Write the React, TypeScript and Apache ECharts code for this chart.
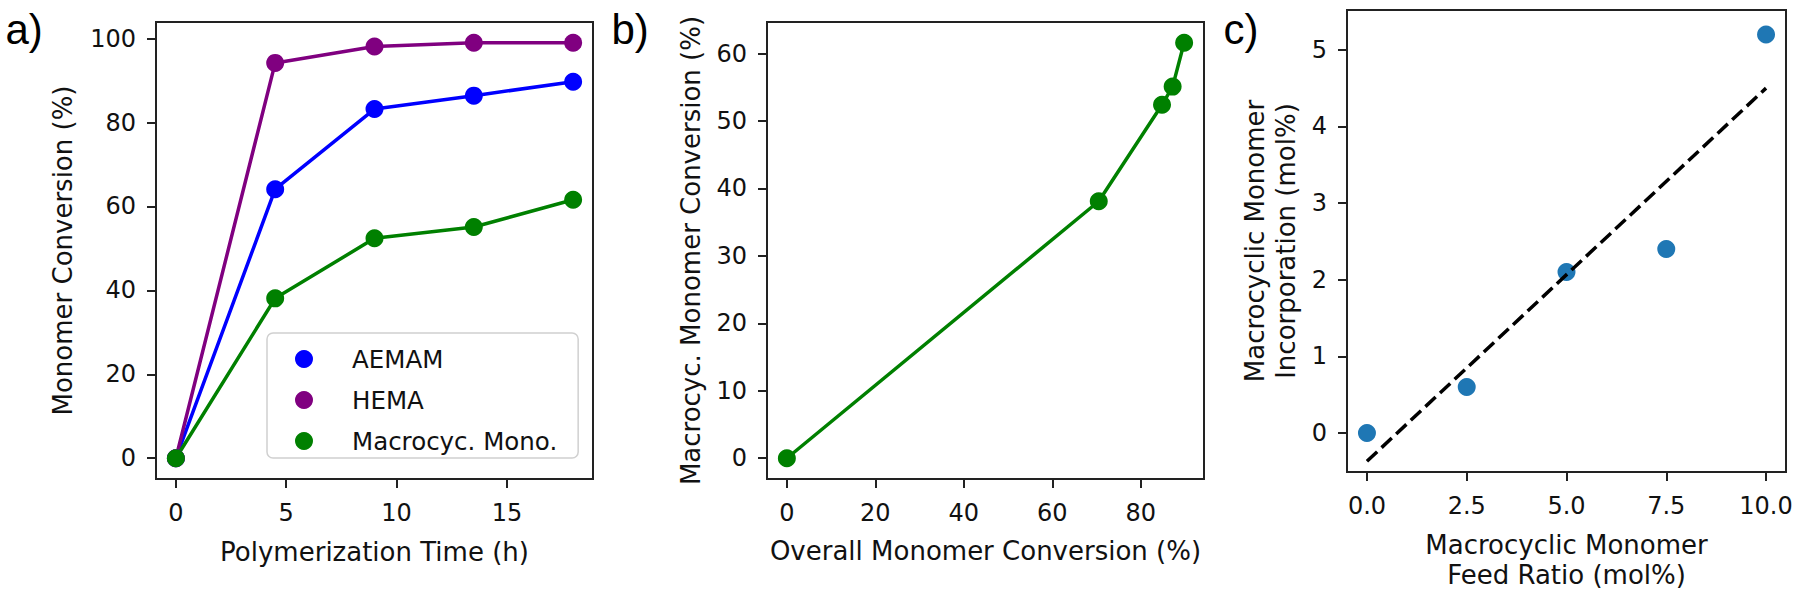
import React, { useEffect, useRef } from "react";
import * as echarts from "echarts";

// ---- Panel a data ----
const timeH = [0, 4.5, 9, 13.5, 18];
const aemamConv = [0, 64.1, 83.2, 86.4, 89.7];
const hemaConv = [0, 94.2, 98.1, 99.0, 99.0];
const macroConvA = [0, 38.1, 52.4, 55.1, 61.6];
const aXTicks = [0, 5, 10, 15];
const aYTicks = [0, 20, 40, 60, 80, 100];

// ---- Panel b data ----
const overallConv = [0, 70.5, 84.8, 87.2, 89.8];
const macroConvB = [0, 38.1, 52.4, 55.1, 61.6];
const bXTicks = [0, 20, 40, 60, 80];
const bYTicks = [0, 10, 20, 30, 40, 50, 60];

// ---- Panel c data ----
const feedRatio = [0, 2.5, 5, 7.5, 10];
const incorporation = [0, 0.6, 2.1, 2.4, 5.2];
const fitX = [0, 10];
const fitY = [-0.37, 4.5];
const cXTicks = [0, 2.5, 5, 7.5, 10];
const cYTicks = [0, 1, 2, 3, 4, 5];

const FONT = "DejaVu Sans";
const AX = "#222222";

const zip = (xs: number[], ys: number[]) => xs.map((x, i) => [x, ys[i]]);

function valueAxis(
  gridIndex: number,
  min: number,
  max: number,
  ticks: number[],
  name: string,
  nameGap: number,
  isX: boolean,
  fmt?: (v: number) => string,
  nameLineHeight?: number
) {
  return {
    type: "value",
    gridIndex,
    min,
    max,
    name,
    nameLocation: "middle",
    nameGap,
    nameTextStyle: {
      fontFamily: FONT,
      fontSize: 26,
      color: "#111",
      lineHeight: nameLineHeight || 26,
    },
    axisLine: { show: false, onZero: false },
    axisTick: {
      show: true,
      inside: false,
      length: 9,
      lineStyle: { color: AX, width: 2 },
      customValues: ticks,
    },
    axisLabel: {
      show: true,
      margin: isX ? 22 : 20,
      fontFamily: FONT,
      fontSize: 24,
      color: "#111",
      customValues: ticks,
      formatter: fmt ? (v: number) => fmt(v) : (v: number) => String(v),
      showMinLabel: true,
      showMaxLabel: true,
    },
    splitLine: { show: false },
  };
}

export default function App() {
  const ref = useRef<HTMLDivElement>(null);

  useEffect(() => {
    if (!ref.current) return;
    const chart = echarts.init(ref.current, null, { renderer: "svg" });
    const frame = { show: true, borderColor: AX, borderWidth: 2, backgroundColor: "transparent" };
    const option: any = {
      animation: false,
      backgroundColor: "#ffffff",
      grid: [
        { left: 156, top: 22, width: 437, height: 457, ...frame },
        { left: 767, top: 22, width: 437, height: 457, ...frame },
        { left: 1347, top: 10, width: 439, height: 462, ...frame },
      ],
      xAxis: [
        valueAxis(0, -0.9, 18.9, aXTicks, "Polymerization Time (h)", 60, true),
        valueAxis(1, -4.49, 94.29, bXTicks, "Overall Monomer Conversion (%)", 59, true),
        valueAxis(
          2,
          -0.5,
          10.5,
          cXTicks,
          "Macrocyclic Monomer\nFeed Ratio (mol%)",
          58,
          true,
          (v: number) => v.toFixed(1),
          30
        ),
      ],
      yAxis: [
        valueAxis(0, -4.95, 103.95, aYTicks, "Monomer Conversion (%)", 80, false),
        valueAxis(1, -3.08, 64.68, bYTicks, "Macrocyc. Monomer Conversion (%)", 63, false),
        valueAxis(
          2,
          -0.51,
          5.52,
          cYTicks,
          "Macrocyclic Monomer\nIncorporation (mol%)",
          46,
          false,
          undefined,
          31
        ),
      ],
      legend: {
        show: true,
        data: ["AEMAM", "HEMA", "Macrocyc. Mono."],
        orient: "vertical",
        left: 267,
        top: 333,
        icon: "circle",
        itemWidth: 18,
        itemHeight: 18,
        itemGap: 15,
        padding: [13, 21, 4, 28],
        backgroundColor: "rgba(255,255,255,0.8)",
        borderColor: "#d0d0d0",
        borderWidth: 1.5,
        borderRadius: 6,
        selectedMode: false,
        textStyle: {
          fontFamily: FONT,
          fontSize: 24.5,
          color: "#111",
          lineHeight: 26,
          padding: [0, 0, 0, 34],
        },
      },
      graphic: [
        {
          type: "text",
          x: 5.5,
          y: 29.5,
          style: { text: "a)", font: "42px 'Liberation Sans'", fill: "#000", verticalAlign: "middle" },
        },
        {
          type: "text",
          x: 611.5,
          y: 29.5,
          style: { text: "b)", font: "42px 'Liberation Sans'", fill: "#000", verticalAlign: "middle" },
        },
        {
          type: "text",
          x: 1223.5,
          y: 29.5,
          style: { text: "c)", font: "42px 'Liberation Sans'", fill: "#000", verticalAlign: "middle" },
        },
      ],
      series: [
        {
          name: "AEMAM",
          type: "line",
          xAxisIndex: 0,
          yAxisIndex: 0,
          data: zip(timeH, aemamConv),
          symbol: "circle",
          symbolSize: 18,
          color: "#0000ff",
          lineStyle: { width: 3.5, color: "#0000ff" },
          itemStyle: { color: "#0000ff" },
        },
        {
          name: "HEMA",
          type: "line",
          xAxisIndex: 0,
          yAxisIndex: 0,
          data: zip(timeH, hemaConv),
          symbol: "circle",
          symbolSize: 18,
          color: "#800080",
          lineStyle: { width: 3.5, color: "#800080" },
          itemStyle: { color: "#800080" },
        },
        {
          name: "Macrocyc. Mono.",
          type: "line",
          xAxisIndex: 0,
          yAxisIndex: 0,
          data: zip(timeH, macroConvA),
          symbol: "circle",
          symbolSize: 18,
          color: "#008000",
          lineStyle: { width: 3.5, color: "#008000" },
          itemStyle: { color: "#008000" },
        },
        {
          name: "Macrocyclic vs overall conversion",
          type: "line",
          xAxisIndex: 1,
          yAxisIndex: 1,
          data: zip(overallConv, macroConvB),
          symbol: "circle",
          symbolSize: 18,
          color: "#008000",
          lineStyle: { width: 3.5, color: "#008000" },
          itemStyle: { color: "#008000" },
        },
        {
          name: "Incorporation",
          type: "scatter",
          xAxisIndex: 2,
          yAxisIndex: 2,
          data: zip(feedRatio, incorporation),
          symbol: "circle",
          symbolSize: 18,
          itemStyle: { color: "#1f77b4", opacity: 1 },
          z: 2,
        },
        {
          name: "Linear fit",
          type: "line",
          xAxisIndex: 2,
          yAxisIndex: 2,
          data: zip(fitX, fitY),
          showSymbol: false,
          symbol: "none",
          lineStyle: { width: 3.5, color: "#000000", type: [14, 6] },
          z: 3,
        },
      ],
    };
    chart.setOption(option);
    return () => chart.dispose();
  }, []);

  return (
    <div
      ref={ref}
      style={{ position: "fixed", left: 0, top: 0, width: 1800, height: 595, background: "#fff" }}
    />
  );
}
